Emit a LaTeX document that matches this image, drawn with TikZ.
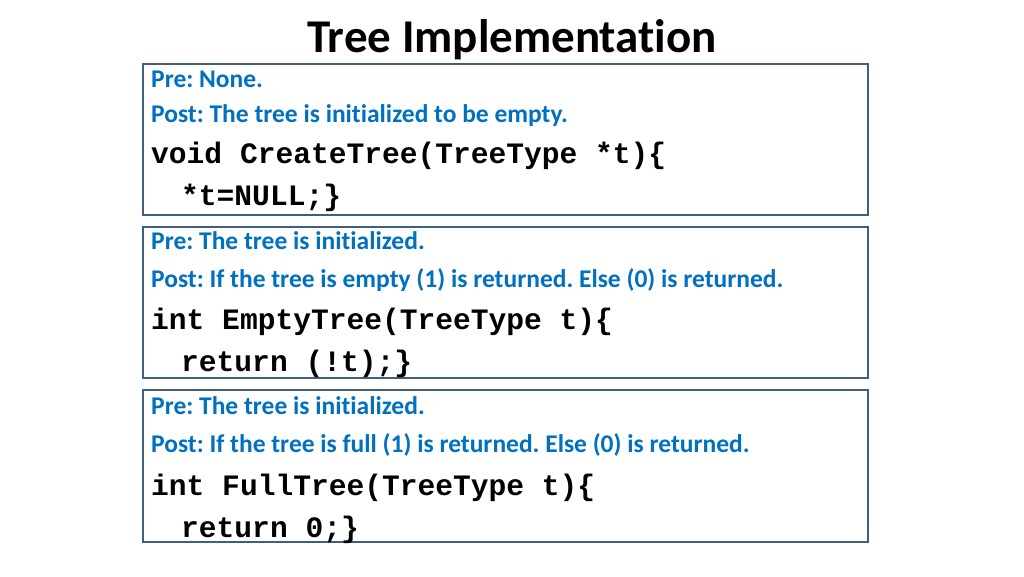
\documentclass[tikz,border=0pt]{standalone}
\usepackage{fontspec}
\setmainfont{Carlito}[RawFeature={-liga}]
\newfontfamily\codefont{Liberation Mono}
\definecolor{txtblue}{HTML}{0070C0}
\definecolor{boxline}{HTML}{3F5F7F}
\frenchspacing
\begin{document}
\begin{tikzpicture}[x=1pt,y=-1pt,
  box/.style={draw=boxline,line width=1.5pt},
  blue/.style={anchor=base west,inner sep=0,text=txtblue,font=\fontsize{25.5}{25.5}\selectfont\bfseries},
  code/.style={anchor=base west,inner sep=0,font=\fontsize{29.6}{29.6}\selectfont\codefont\bfseries}]
\useasboundingbox (0,0) rectangle (1024,576);
\node[anchor=base,inner sep=0,font=\fontsize{47}{47}\selectfont\bfseries] (title) at (512,52) {Tree Implementation};
\draw[box] (143,64) rectangle (868,215);
\draw[box] (143,227) rectangle (868,378);
\draw[box] (143,390) rectangle (868,542);
\node[blue] (a1) at (151,87) {Pre: None.};
\node[blue] (a2) at (151,122) {Post: The tree is initialized to be empty.};
\node[code] (a3) at (151,163) {void CreateTree(TreeType *t)\{};
\node[code] (a4) at (181,205) {*t=NULL;\}};
\node[blue] (b1) at (151,249) {Pre: The tree is initialized.};
\node[blue] (b2) at (151,287) {Post: If the tree is empty (1) is returned. Else (0) is returned.};
\node[code] (b3) at (151,329) {int EmptyTree(TreeType t)\{};
\node[code] (b4) at (181,371) {return (!t);\}};
\node[blue] (c1) at (151,414) {Pre: The tree is initialized.};
\node[blue] (c2) at (151,452) {Post: If the tree is full (1) is returned. Else (0) is returned.};
\node[code] (c3) at (151,495) {int FullTree(TreeType t)\{};
\node[code] (c4) at (181,537) {return 0;\}};
\end{tikzpicture}
\end{document}
